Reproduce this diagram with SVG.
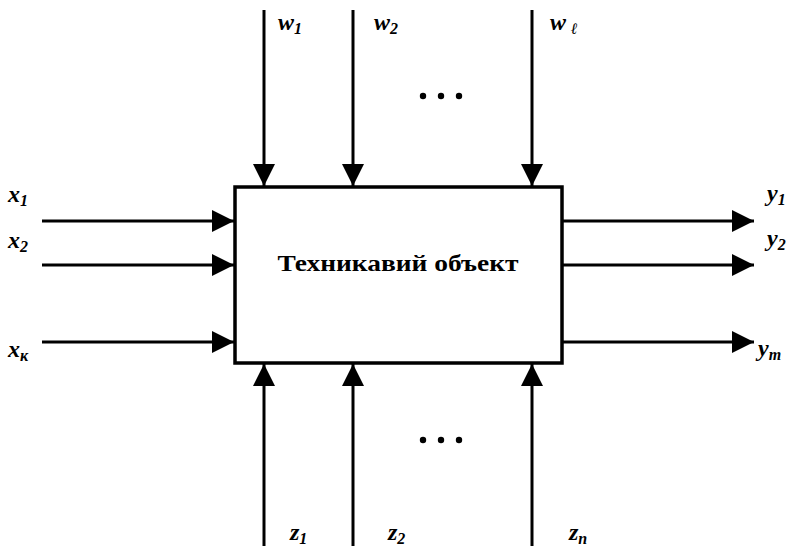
<svg xmlns="http://www.w3.org/2000/svg" width="795" height="546" viewBox="0 0 795 546">
<style>
.ln{stroke:#000;stroke-width:3;fill:none}
.lbl{font-family:"Liberation Serif","Times New Roman",serif;font-style:italic;font-weight:bold;font-size:24px;fill:#000}
.sub{font-size:16px}
.title{font-family:"Liberation Serif","Times New Roman",serif;font-weight:bold;font-size:24px;fill:#000}
</style>
<defs>
<marker id="ah" viewBox="0 0 22 22" refX="22" refY="11" markerWidth="22" markerHeight="22" markerUnits="userSpaceOnUse" orient="auto">
<path d="M0,0 L22,11 L0,22 Z" fill="#000"/>
</marker>
</defs>
<rect width="795" height="546" fill="#fff"/>
<g id="object">
<rect x="235" y="187" width="327" height="176" fill="#fff" stroke="#000" stroke-width="3.5"/>
<text class="title" x="398" y="271" text-anchor="middle" textLength="241" lengthAdjust="spacingAndGlyphs">Техникавий объект</text>
</g>
<g id="connectors">
<line class="ln" x1="42" y1="221" x2="234" y2="221" marker-end="url(#ah)"/>
<line class="ln" x1="42" y1="265" x2="234" y2="265" marker-end="url(#ah)"/>
<line class="ln" x1="42" y1="342" x2="234" y2="342" marker-end="url(#ah)"/>
<line class="ln" x1="563" y1="221" x2="754" y2="221" marker-end="url(#ah)"/>
<line class="ln" x1="563" y1="265" x2="754" y2="265" marker-end="url(#ah)"/>
<line class="ln" x1="563" y1="342" x2="754" y2="342" marker-end="url(#ah)"/>
<line class="ln" x1="264" y1="10" x2="264" y2="186" marker-end="url(#ah)"/>
<line class="ln" x1="353" y1="10" x2="353" y2="186" marker-end="url(#ah)"/>
<line class="ln" x1="532" y1="10" x2="532" y2="186" marker-end="url(#ah)"/>
<line class="ln" x1="264" y1="546" x2="264" y2="364" marker-end="url(#ah)"/>
<line class="ln" x1="353" y1="546" x2="353" y2="364" marker-end="url(#ah)"/>
<line class="ln" x1="532" y1="546" x2="532" y2="364" marker-end="url(#ah)"/>
</g>
<g id="dots" fill="#000">
<circle cx="423" cy="96" r="3.2"/><circle cx="441" cy="96" r="3.2"/><circle cx="459" cy="96" r="3.2"/>
<circle cx="423" cy="440" r="3.2"/><circle cx="441" cy="440" r="3.2"/><circle cx="459" cy="440" r="3.2"/>
</g>
<g id="labels">
<text class="lbl" x="8" y="202">x<tspan class="sub" dy="4">1</tspan></text>
<text class="lbl" x="8" y="248">x<tspan class="sub" dy="4">2</tspan></text>
<text class="lbl" x="8" y="357">x<tspan class="sub" dy="4">к</tspan></text>
<text class="lbl" x="767" y="201">y<tspan class="sub" dy="4">1</tspan></text>
<text class="lbl" x="767" y="246">y<tspan class="sub" dy="4">2</tspan></text>
<text class="lbl" x="758" y="356">y<tspan class="sub" dy="4">m</tspan></text>
<text class="lbl" x="278" y="30">w<tspan class="sub" dy="4">1</tspan></text>
<text class="lbl" x="374" y="30">w<tspan class="sub" dy="4">2</tspan></text>
<text class="lbl" x="550" y="30">w<tspan class="sub" dx="5" dy="4">ℓ</tspan></text>
<text class="lbl" x="290" y="540">z<tspan class="sub" dy="4">1</tspan></text>
<text class="lbl" x="388" y="540">z<tspan class="sub" dy="4">2</tspan></text>
<text class="lbl" x="569" y="540">z<tspan class="sub" dy="4">n</tspan></text>
</g>
</svg>
